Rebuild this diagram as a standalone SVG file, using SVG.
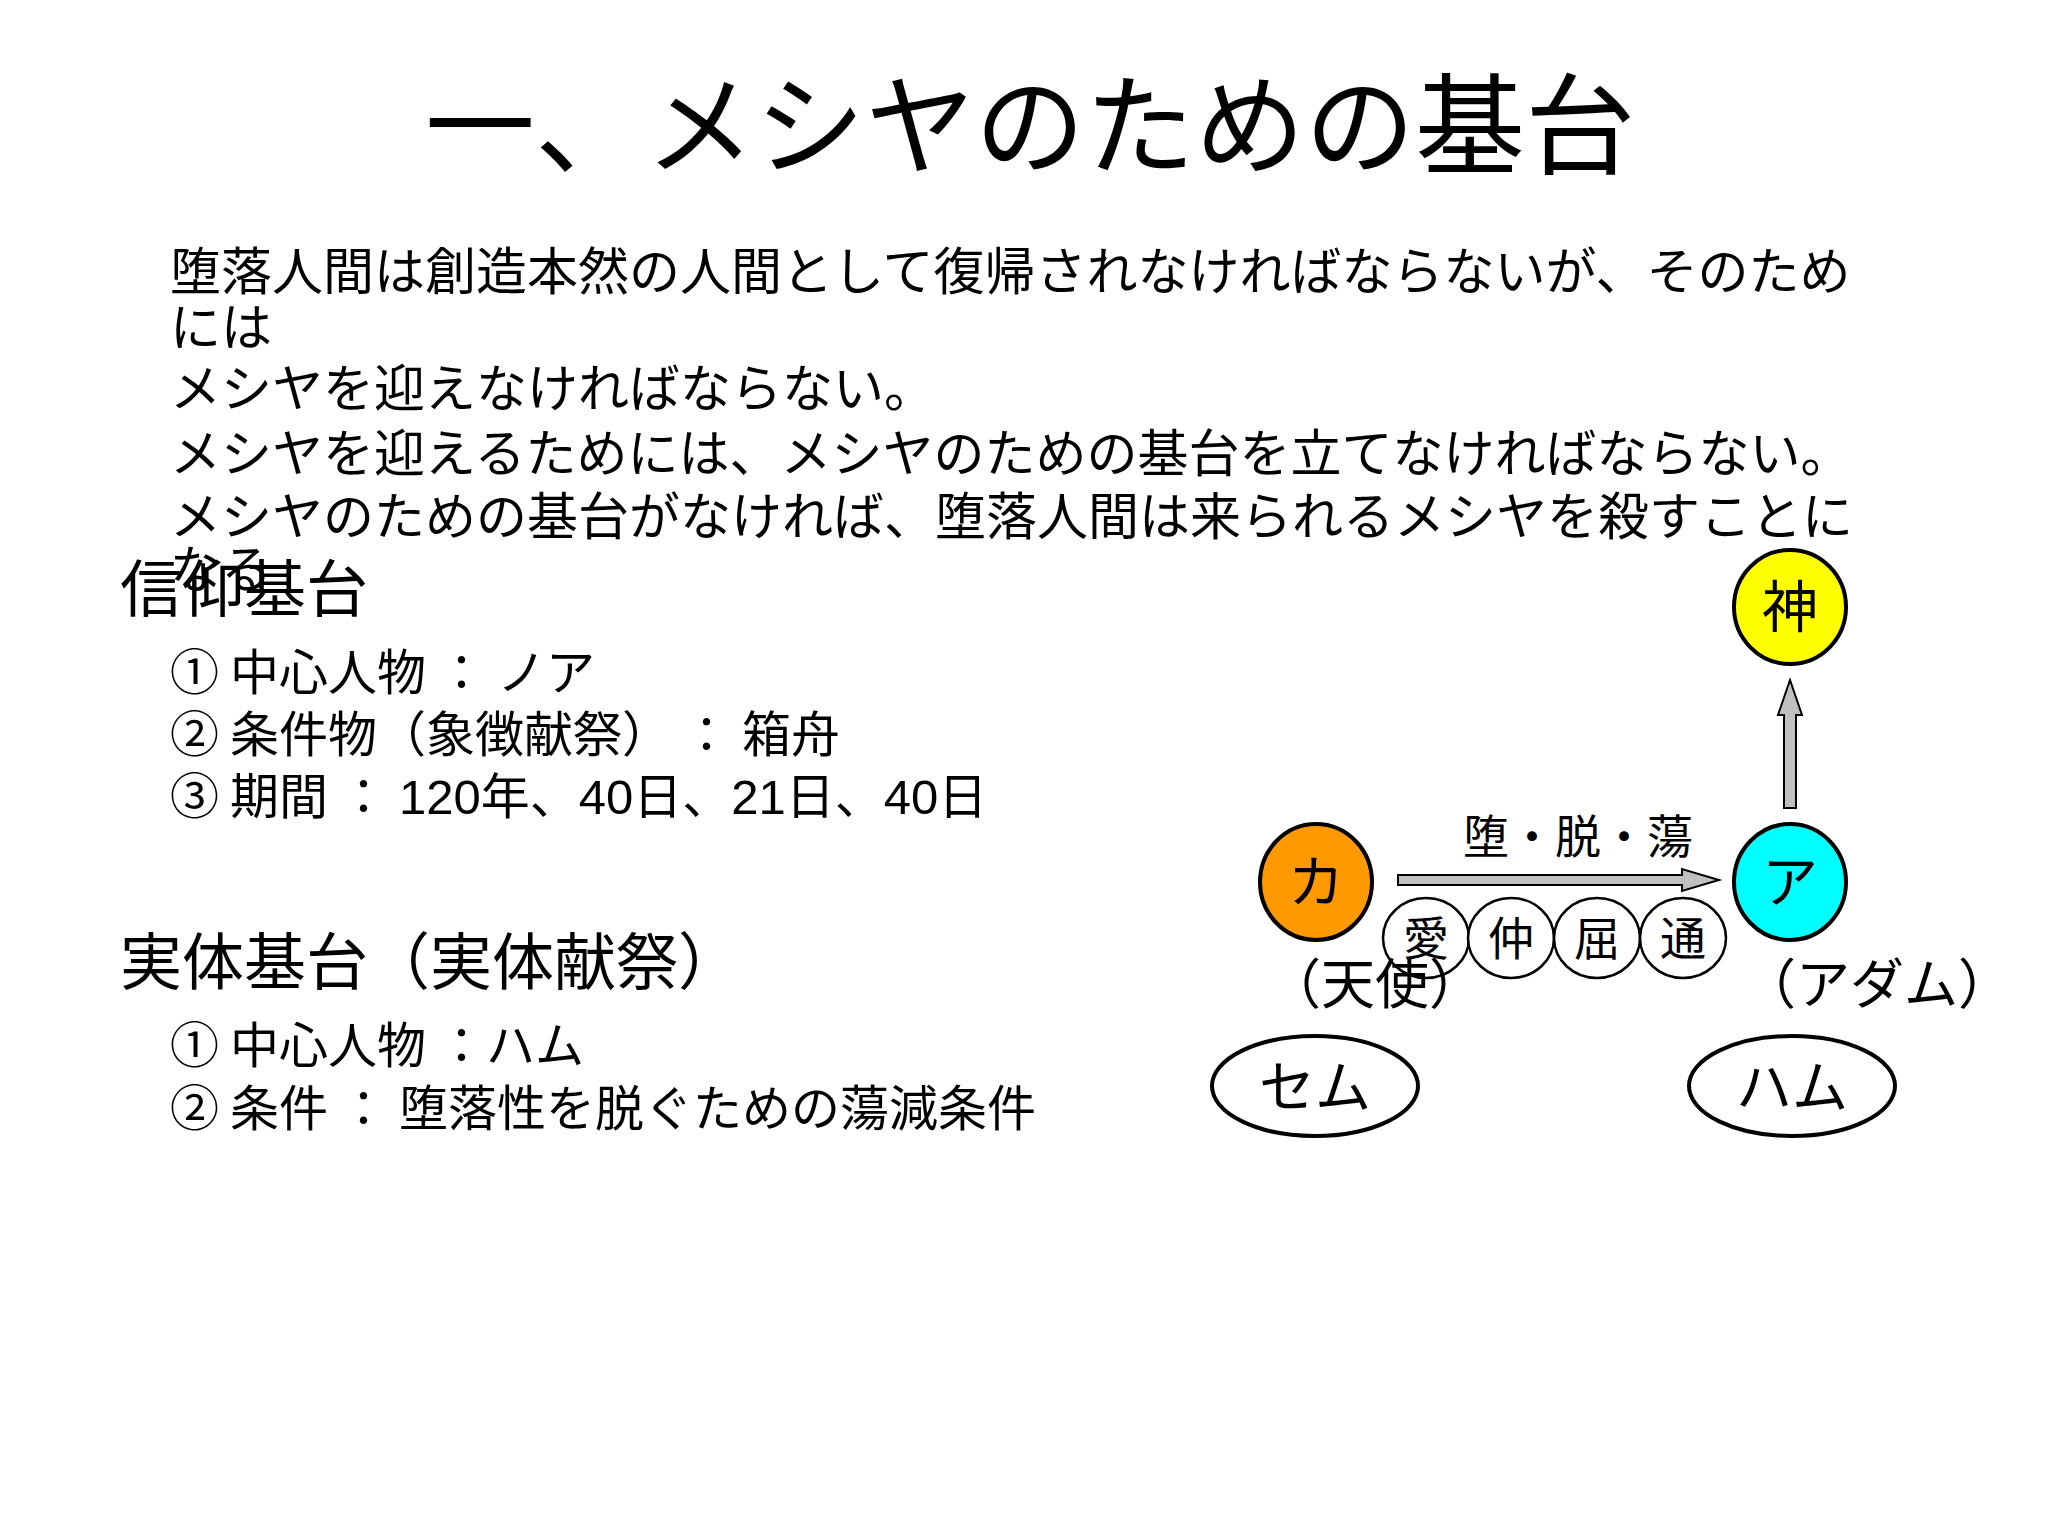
<svg xmlns="http://www.w3.org/2000/svg" width="2048" height="1536" viewBox="0 0 2048 1536">
<style>
text{font-family:"Noto Sans CJK JP","Liberation Sans",sans-serif;fill:#000}
.t{font-size:110px;text-anchor:middle}
.b{font-size:51px}
.h{font-size:62px}
.i{font-size:49px}
.n{font-size:56px;text-anchor:middle}
.s{font-size:46px;text-anchor:middle}
.node{stroke:#000;stroke-width:4}
.sm{fill:#fff;stroke:#000;stroke-width:2.5}
</style>
<rect width="2048" height="1536" fill="#fff"/>
<text class="t" x="1030" y="166">一、メシヤのための基台</text>
<g id="body">
<text class="b" x="170" y="290">堕落人間は創造本然の人間として復帰されなければならないが、そのため</text>
<text class="b" x="170" y="346">には</text>
<text class="b" x="170" y="407">メシヤを迎えなければならない。</text>
<text class="b" x="170" y="472">メシヤを迎えるためには、メシヤのための基台を立てなければならない。</text>
<text class="b" x="170" y="535">メシヤのための基台がなければ、堕落人間は来られるメシヤを殺すことに</text>
<text class="b" x="170" y="588">なる</text>
</g>
<g id="faith">
<text class="h" x="120" y="612">信仰基台</text>
<text class="i" x="170" y="690">① 中心人物 ： ノア</text>
<text class="i" x="170" y="752">② 条件物（象徴献祭） ： 箱舟</text>
<text class="i" x="170" y="814">③ 期間 ： <tspan font-family="Liberation Sans,sans-serif">120</tspan>年、<tspan font-family="Liberation Sans,sans-serif">40</tspan>日、<tspan font-family="Liberation Sans,sans-serif">21</tspan>日、<tspan font-family="Liberation Sans,sans-serif">40</tspan>日</text>
</g>
<g id="substance">
<text class="h" x="120" y="985">実体基台（実体献祭）</text>
<text class="i" x="170" y="1063">① 中心人物 ：ハム</text>
<text class="i" x="170" y="1126">② 条件 ： 堕落性を脱ぐための蕩減条件</text>
</g>
<g id="connectors" fill="#c0c0c0" stroke="#000" stroke-width="2">
<polygon points="1784,808 1784,715 1778,715 1790,680 1802,715 1796,715 1796,808"/>
<polygon points="1398,875 1682,875 1682,869 1719,880 1682,891 1682,885 1398,885"/>
</g>
<g id="god"><ellipse class="node" cx="1790" cy="607" rx="56" ry="57" fill="#ffff00"/><text class="n" x="1790" y="627">神</text></g>
<g id="ka"><ellipse class="node" cx="1316" cy="882" rx="56" ry="58" fill="#ff9900"/><text class="n" x="1316" y="902">カ</text></g>
<g id="a"><ellipse class="node" cx="1790" cy="882" rx="56" ry="58" fill="#00ffff"/><text class="n" x="1790" y="902">ア</text></g>
<text class="s" x="1578" y="853">堕・脱・蕩</text>
<g id="virtues">
<ellipse class="sm" cx="1426" cy="938" rx="43" ry="40"/><text class="s" x="1426" y="955">愛</text>
<ellipse class="sm" cx="1511" cy="938" rx="43" ry="40"/><text class="s" x="1511" y="955">仲</text>
<ellipse class="sm" cx="1597" cy="938" rx="43" ry="40"/><text class="s" x="1597" y="955">屈</text>
<ellipse class="sm" cx="1683" cy="938" rx="43" ry="40"/><text class="s" x="1683" y="955">通</text>
</g>
<text x="1267" y="1004" font-size="54">（天使）</text>
<text x="1742" y="1004" font-size="54">（アダム）</text>
<g id="sem"><ellipse class="node" cx="1315" cy="1086" rx="103" ry="50" fill="#fff" stroke-width="3.5"/><text class="n" x="1315" y="1107" font-size="62">セム</text></g>
<g id="ham"><ellipse class="node" cx="1792" cy="1086" rx="103" ry="50" fill="#fff" stroke-width="3.5"/><text class="n" x="1792" y="1107" font-size="62">ハム</text></g>
</svg>
